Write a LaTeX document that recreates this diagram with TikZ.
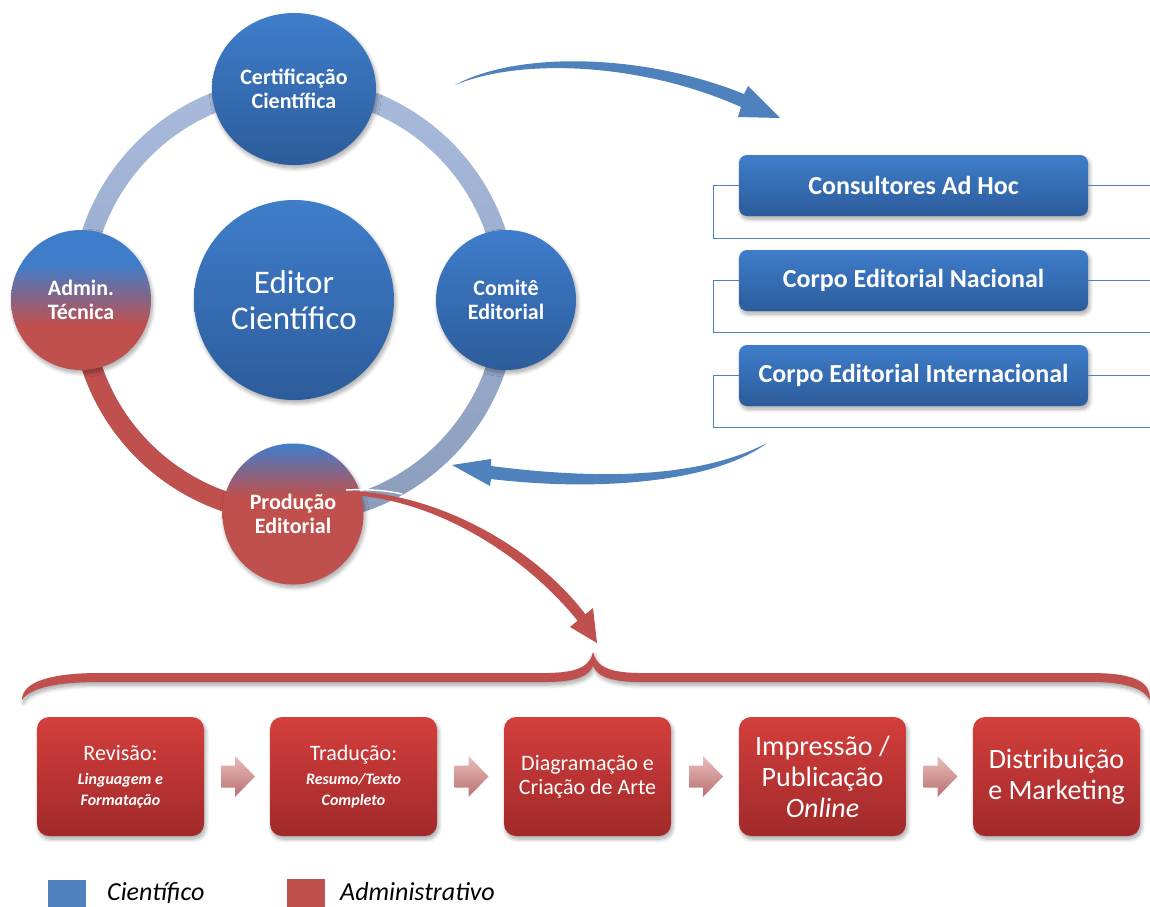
\documentclass[tikz,border=0pt]{standalone}
\usepackage{fontspec}
\setmainfont{Carlito}
\usetikzlibrary{shapes.geometric,shadows.blur,calc}

\definecolor{sciblue}{HTML}{4F81BD}
\definecolor{admred}{HTML}{C0504D}
\definecolor{cblueT}{HTML}{3F7DCB}
\definecolor{cblueB}{HTML}{2C5C9B}
\definecolor{ringT}{HTML}{A9BBDC}
\definecolor{ringB}{HTML}{8A9DBC}
\definecolor{boxredT}{HTML}{D33F3C}
\definecolor{boxredB}{HTML}{A1292A}
\definecolor{arrT}{HTML}{E8BDBC}
\definecolor{arrB}{HTML}{BA716F}

% blue on top fading into red below
\pgfdeclareverticalshading{admshade}{100bp}{color(0bp)=(admred); color(41bp)=(admred); color(63bp)=(cblueT); color(100bp)=(cblueT)}
\pgfdeclareverticalshading{prodshade}{100bp}{color(0bp)=(admred); color(56bp)=(admred); color(75bp)=(cblueT); color(100bp)=(cblueT)}

\tikzset{
  softshadow/.style={blur shadow={shadow xshift=1.5pt, shadow yshift=-3pt,
      shadow blur radius=4pt, shadow blur steps=8, shadow opacity=35}},
  circtext/.style={text=white, align=center, inner sep=0pt,
      font=\bfseries\fontsize{22}{24}\selectfont, softshadow},
  bluecirc/.style={circle, circtext, top color=cblueT, bottom color=cblueB},
  rbox/.style={rectangle, rounded corners=8pt, minimum width=349pt, minimum height=61pt,
      inner sep=0pt, top color=cblueT, bottom color=cblueB, text=white,
      font=\bfseries\fontsize{26}{30}\selectfont, softshadow},
  bline/.style={sciblue, line width=1pt},
  procbox/.style={rectangle, rounded corners=12pt, minimum width=167pt, minimum height=119pt,
      inner sep=0pt, top color=boxredT, bottom color=boxredB, text=white,
      align=center, softshadow},
  smallarr/.style={top color=arrT, bottom color=arrB},
  legsq/.style={rectangle, inner sep=0pt, minimum width=38pt, minimum height=30pt},
  legtext/.style={anchor=base west, inner sep=0pt, font=\itshape\fontsize{26}{30}\selectfont},
}

\begin{document}
\begin{tikzpicture}[x=1pt, y=-1pt]
\useasboundingbox (0,0) rectangle (1150,906);

% ---------- ring ----------
\coordinate (ringc) at (294,300);
\shade[top color=ringT, bottom color=ringB, even odd rule]
  (ringc) circle[radius=223pt] (ringc) circle[radius=203pt];
% administrative quarter, from the left circle down to the bottom one
\draw[admred, line width=20pt] (81,300) arc[start angle=180, end angle=270, radius=213pt];

% ---------- circles ----------
\node[bluecirc, ellipse, minimum width=164pt, minimum height=152pt] (cert) at (294,89) {Certificação\\Científica};
\node[bluecirc, minimum size=200pt, font=\fontsize{33}{36}\selectfont] (editor) at (294,300) {Editor\\Científico};
\node[circle, circtext, minimum size=140pt, shading=admshade] (admin) at (81,300) {Admin.\\Técnica};
\node[bluecirc, minimum size=140pt] (comite) at (506,300) {Comitê\\Editorial};
\node[circle, circtext, minimum size=141pt, shading=prodshade] (prod) at (293,514) {Produção\\Editorial};

% ---------- review bodies ----------
\node[rbox] (cah) at (913.5,185.5) {Consultores Ad Hoc};
\node[rbox] (cen) at (913.5,280.5) {Corpo Editorial Nacional};
\node[rbox] (cei) at (913.5,375.5) {Corpo Editorial Internacional};
\coordinate (redge) at (1150,0);
\foreach \b/\yb in {cah/238, cen/332, cei/427}{
  \draw[bline] (\b.west) -- ++(-25,0) |- (1150,\yb);
  \draw[bline] (\b.east) -- (\b.east -| redge);
}

% ---------- curved blue arrows ----------
\coordinate (ta0) at (455,85);
\coordinate (ta1) at (780,118);
\fill[sciblue] (ta0) .. controls (515,52) and (640,52) .. (744,94) -- (748,86) -- (ta1)
  -- (738,117) -- (741,107) .. controls (640,62) and (520,58) .. (ta0) -- cycle;

\coordinate (ba0) at (767,443);
\coordinate (ba1) at (452,465);
\fill[sciblue] (ba0) .. controls (700,478) and (600,480) .. (491,466) -- (491,459) -- (ba1)
  -- (490,486) -- (491,479) .. controls (600,492) and (715,482) .. (ba0) -- cycle;

% ---------- red arrow to the production chain ----------
\coordinate (ra0) at (350,493);
\coordinate (ra1) at (597,643);
\fill[admred] (350,491) .. controls (440,494) and (535,548) .. (585.4,614.3) -- (593,608) -- (ra1)
  -- (570,627) -- (577.6,620.7) .. controls (525,556) and (438,500) .. (350,495) -- cycle;
\draw[white, line width=1.5pt] (346,490) .. controls (365,489) and (385,490) .. (402,494);

% ---------- brace ----------
\fill[admred, softshadow] (22,700) .. controls (22,682) and (50,673) .. (100,673) -- (545,673)
  .. controls (580,673) and (590,665) .. (593,652) .. controls (596,665) and (606,673) .. (641,673)
  -- (1090,673) .. controls (1140,673) and (1150,684) .. (1150,700)
  .. controls (1144,690) and (1130,682) .. (1090,682) -- (641,682)
  .. controls (610,682) and (597,676) .. (593,666) .. controls (589,676) and (576,682) .. (545,682)
  -- (100,682) .. controls (55,682) and (30,688) .. (22,700) -- cycle;

% ---------- production chain ----------
\node[procbox, font=\fontsize{16}{21}\selectfont] (p1) at (120.5,776.5)
  {\fontsize{22}{24}\selectfont Revisão:\\[3pt]
   \bfseries\itshape\fontsize{16}{21}\selectfont Linguagem e\\
   \bfseries\itshape\fontsize{16}{21}\selectfont Formatação};
\node[procbox, font=\fontsize{16}{21}\selectfont] (p2) at (353.5,776.5)
  {\fontsize{22}{24}\selectfont Tradução:\\[3pt]
   \bfseries\itshape\fontsize{16}{21}\selectfont Resumo/Texto\\
   \bfseries\itshape\fontsize{16}{21}\selectfont Completo};
\node[procbox, font=\fontsize{22}{24}\selectfont] (p3) at (587.5,776.5)
  {Diagramação e\\Criação de Arte};
\node[procbox, font=\fontsize{28}{31}\selectfont] (p4) at (822.5,776.5)
  {Impressão /\\Publicação\\\itshape Online};
\node[procbox, font=\fontsize{28}{31}\selectfont] (p5) at (1056.5,776.5)
  {Distribuição\\e Marketing};

\foreach \a/\b [count=\i] in {p1/p2, p2/p3, p3/p4, p4/p5}{
  \path (\a.east) -- coordinate[pos=.5] (m\i) (\b.west);
  \shade[smallarr] ($(m\i)+(-16,-11)$) -- ($(m\i)+(-2,-11)$) -- ($(m\i)+(-2,-20.5)$)
    -- ($(m\i)+(18,0)$) -- ($(m\i)+(-2,20.5)$) -- ($(m\i)+(-2,11)$) -- ($(m\i)+(-16,11)$) -- cycle;
}

% ---------- legend ----------
\node[legsq, fill=sciblue] (lsci) at (67,895) {};
\node[legtext] (lscit) at (107,900) {Científico};
\node[legsq, fill=admred] (ladm) at (306,894) {};
\node[legtext] (ladmt) at (340,900) {Administrativo};
\end{tikzpicture}
\end{document}
